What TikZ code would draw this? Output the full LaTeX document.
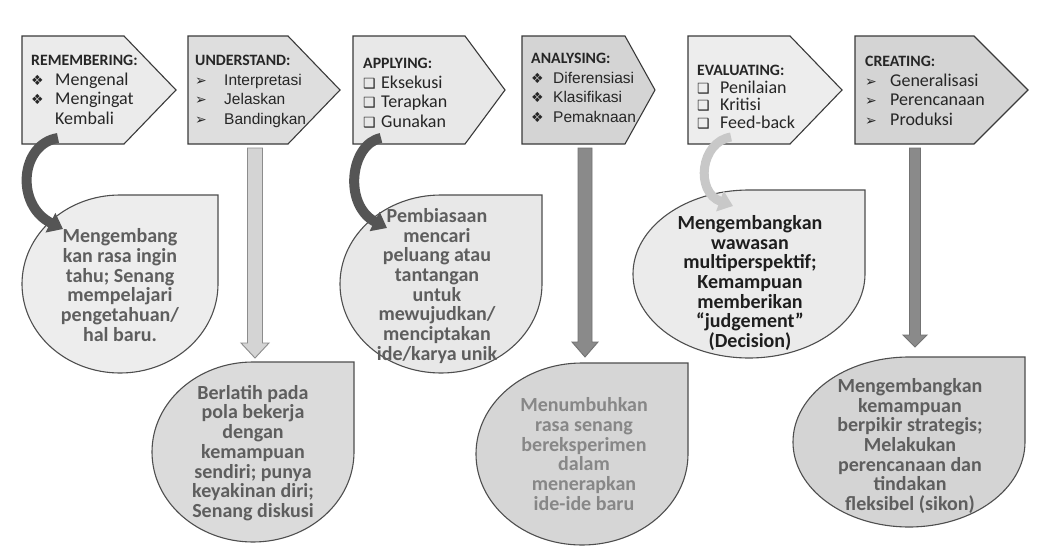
\documentclass[tikz,border=0pt]{standalone}
\usepackage{fontspec}
\setmainfont{Carlito}
\newfontfamily\arialf{Liberation Sans}
\newfontfamily\symf{DejaVu Sans}
\usetikzlibrary{arrows.meta,calc}
\definecolor{pgray}{HTML}{BEBEBE}
\definecolor{boxline}{HTML}{3A3A3A}
\definecolor{bubline}{HTML}{4E4E4E}
\definecolor{darkarrow}{HTML}{555555}
\definecolor{lightarrow}{HTML}{C8C8C8}
\definecolor{midarrow}{HTML}{8A8A8A}
\definecolor{txtgray}{HTML}{5E5E5E}
\definecolor{txtlight}{HTML}{878787}
\definecolor{txtdark}{HTML}{1E1E1E}
\pgfdeclarehorizontalshading{panelshade}{100bp}{color(0bp)=(pgray); color(5bp)=(white); color(95bp)=(white); color(100bp)=(pgray)}
\newcommand\bul[2]{\makebox[#2pt][l]{\symf\fontsize{14}{14}\selectfont #1}}
\newcommand\hd[1]{{\bfseries\fontsize{15.8}{19}\selectfont #1}}
\tikzset{
  boxsh/.style={draw=boxline, line width=1.1pt},
  boxtxt/.style={anchor=north west, inner sep=0pt, align=left, text=black!85, font=\fontsize{18}{19.5}\selectfont},
  bubsh/.style={draw=bubline, line width=1.1pt},
  bubtxt/.style={inner sep=0pt, align=center, font=\bfseries\fontsize{20}{19.7}\selectfont},
  curvearrow/.style={line width=10pt, -{Triangle[width=21pt,length=14pt]}},
  downarrow/.style={line width=0.9pt, line join=miter}
}
\begin{document}
\begin{tikzpicture}[x=1pt,y=-1pt]
\useasboundingbox (0,0) rectangle (1045,557);
\fill[white] (0,0) rectangle (1045,557);
\shade[shading=panelshade] (5,12) rectangle (1040,557);

% pentagon boxes
\filldraw[boxsh, fill=black!8]  (22,36)  -- (124,36) -- (176,90)  -- (124,144) -- (22,144)  -- cycle;
\filldraw[boxsh, fill=black!13] (188,36) -- (288,36) -- (340,90)  -- (288,144) -- (188,144) -- cycle;
\filldraw[boxsh, fill=black!9]  (353,36) -- (465,36) -- (505,90)  -- (465,144) -- (353,144) -- cycle;
\filldraw[boxsh, fill=black!17] (522,36) -- (625,36) -- (655,90)  -- (625,144) -- (522,144) -- cycle;
\filldraw[boxsh, fill=black!7]  (688,36) -- (790,36) -- (842,90)  -- (790,144) -- (688,144) -- cycle;
\filldraw[boxsh, fill=black!17] (855,36) -- (974,36) -- (1028,90) -- (974,144) -- (855,144) -- cycle;

\node[boxtxt] (t1) at (31,55) {\hd{REMEMBERING:}\\ \bul{❖}{24}Mengenal\\ \bul{❖}{24}Mengingat\\ \hspace*{24pt}Kembali};
\node[boxtxt] (t2) at (195,55) {\hd{UNDERSTAND:}\\ \bul{➢}{29}{\arialf\fontsize{15.5}{19.5}\selectfont Interpretasi}\\ \bul{➢}{29}{\arialf\fontsize{15.5}{19.5}\selectfont Jelaskan}\\ \bul{➢}{29}{\arialf\fontsize{15.5}{19.5}\selectfont Bandingkan}};
\node[boxtxt] (t3) at (363,58) {\hd{APPLYING:}\\ \bul{❑}{18}Eksekusi\\ \bul{❑}{18}Terapkan\\ \bul{❑}{18}Gunakan};
\node[boxtxt] (t4) at (531,53) {\hd{ANALYSING:}\\ \bul{❖}{22}{\arialf\fontsize{15.5}{19.5}\selectfont Diferensiasi}\\ \bul{❖}{22}{\arialf\fontsize{15.5}{19.5}\selectfont Klasifikasi}\\ \bul{❖}{22}{\arialf\fontsize{15.5}{19.5}\selectfont Pemaknaan}};
\node[boxtxt, font=\fontsize{18}{17.5}\selectfont] (t5) at (697,65) {\hd{EVALUATING:}\\ \bul{❑}{23}Penilaian\\ \bul{❑}{23}Kritisi\\ \bul{❑}{23}Feed-back};
\node[boxtxt] (t6) at (865,56) {\hd{CREATING:}\\ \bul{➢}{25}Generalisasi\\ \bul{➢}{25}Perencanaan\\ \bul{➢}{25}Produksi};

% bubbles
\filldraw[bubsh, fill=black!7]  (120,195) -- (218,195) -- (218,284) arc[start angle=0,end angle=270,x radius=98,y radius=89] -- cycle;
\filldraw[bubsh, fill=black!14] (253,362) -- (354,362) -- (354,452) arc[start angle=0,end angle=270,x radius=101,y radius=90] -- cycle;
\filldraw[bubsh, fill=black!9]  (441,195) -- (542,195) -- (542,284) arc[start angle=0,end angle=270,x radius=101,y radius=89] -- cycle;
\filldraw[bubsh, fill=black!16] (582,363) -- (688,363) -- (688,454) arc[start angle=0,end angle=270,x radius=106,y radius=91] -- cycle;
\filldraw[bubsh, fill=black!8]  (749,190) -- (865,190) -- (865,274) arc[start angle=0,end angle=270,x radius=116,y radius=84] -- cycle;
\filldraw[bubsh, fill=black!17] (909,357) -- (1025,357) -- (1025,442) arc[start angle=0,end angle=270,x radius=116,y radius=85] -- cycle;

\node[bubtxt, text=txtgray] (u1) at (120,285) {Mengembang\\kan rasa ingin\\tahu; Senang\\mempelajari\\pengetahuan/\\hal baru.};
\node[bubtxt, text=txtgray] (u2) at (253,453) {Berlatih pada\\pola bekerja\\dengan\\kemampuan\\sendiri; punya\\keyakinan diri;\\Senang diskusi};
\node[bubtxt, text=txtgray] (u3) at (437,286) {Pembiasaan\\mencari\\peluang atau\\tantangan\\untuk\\mewujudkan/\\menciptakan\\ide/karya unik};
\node[bubtxt, text=txtlight] (u4) at (584,454) {Menumbuhkan\\rasa senang\\bereksperimen\\dalam\\menerapkan\\ide-ide baru};
\node[bubtxt, text=txtdark] (u5) at (750,283) {Mengembangkan\\wawasan\\multiperspektif;\\Kemampuan\\memberikan\\“judgement”\\(Decision)};
\node[bubtxt, text=txtgray] (u6) at (910,446) {Mengembangkan\\kemampuan\\berpikir strategis;\\Melakukan\\perencanaan dan\\tindakan\\fleksibel (sikon)};

% connector end points
\coordinate (c1s) at (58,138);  \coordinate (c1e) at (63,229);
\coordinate (c3s) at (381,138); \coordinate (c3e) at (387,228);
\coordinate (c5s) at (731,137); \coordinate (c5e) at (733,206);
\coordinate (a2s) at (255,148); \coordinate (a2e) at (255,358);
\coordinate (a4s) at (585,148); \coordinate (a4e) at (585,357);
\coordinate (a6s) at (915,148); \coordinate (a6e) at (915,347);

% curved arrows
\draw[curvearrow, darkarrow] (c1s) .. controls (20,144) and (15,205) .. (c1e);
\draw[curvearrow, darkarrow] (c3s) .. controls (350,144) and (343,205) .. (c3e);
\draw[curvearrow, lightarrow, line width=9pt] (c5s) .. controls (700,142) and (695,192) .. (c5e);

% block arrows
\filldraw[downarrow, fill=black!17, draw=black!45]
  ($(a2s)+(-7.5,0)$) -- ($(a2e)+(-7.5,-15)$) -- ($(a2e)+(-14,-15)$) -- (a2e) -- ($(a2e)+(14,-15)$) -- ($(a2e)+(7.5,-15)$) -- ($(a2s)+(7.5,0)$) -- cycle;
\filldraw[downarrow, fill=midarrow, draw=black!55]
  ($(a4s)+(-7,0)$) -- ($(a4e)+(-7,-15)$) -- ($(a4e)+(-13,-15)$) -- (a4e) -- ($(a4e)+(13,-15)$) -- ($(a4e)+(7,-15)$) -- ($(a4s)+(7,0)$) -- cycle;
\filldraw[downarrow, fill=midarrow, draw=black!55]
  ($(a6s)+(-5.5,0)$) -- ($(a6e)+(-5.5,-12)$) -- ($(a6e)+(-12,-12)$) -- (a6e) -- ($(a6e)+(12,-12)$) -- ($(a6e)+(5.5,-12)$) -- ($(a6s)+(5.5,0)$) -- cycle;
\end{tikzpicture}
\end{document}
